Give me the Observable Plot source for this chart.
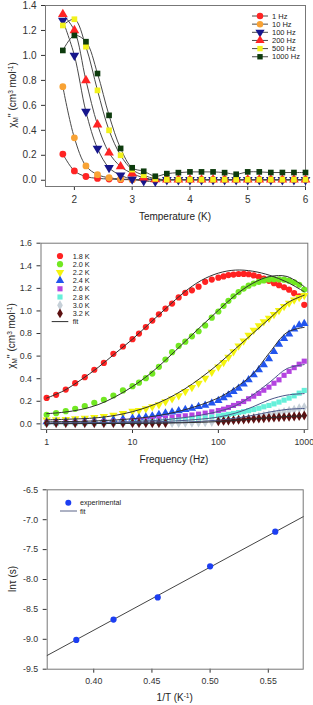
<!DOCTYPE html>
<html><head><meta charset="utf-8">
<script src="https://cdn.jsdelivr.net/npm/d3@7"></script>
<script src="https://cdn.jsdelivr.net/npm/@observablehq/plot@0.6"></script>
<style>
body{margin:0;background:#fff;}
#c{width:313px;}
#c svg{display:block;}
</style></head><body><div id="c"></div>
<script>
// ---------- Panel 1 data: chi'' vs T at several frequencies ----------
const temps = [1.8,2.0,2.2,2.4,2.6,2.8,3.0,3.2,3.4,3.6,3.8,4.0,4.2,4.4,4.6,4.8,5.0,5.2,5.4,5.6,5.8,6.0];
const freqNames = ["1 Hz","10 Hz","100 Hz","200 Hz","500 Hz","1000 Hz"];
const chi_1Hz   = [0.21,0.075,0.03,0.015,0.01,0.005,0.005,0.005,0.005,0.005,0.005,0.005,0.005,0.005,0.005,0.005,0.005,0.005,0.005,0.005,0.005,0.005];
const chi_10Hz  = [0.75,0.34,0.115,0.045,0.02,0.01,0.005,0.004,0.004,0.004,0.004,0.004,0.004,0.004,0.004,0.004,0.004,0.004,0.004,0.004,0.004,0.004];
const chi_100Hz = [1.28,1.0,0.55,0.255,0.10,0.04,0.008,-0.005,-0.01,0.003,0.003,0.003,0.003,0.003,0.003,0.003,0.003,0.003,0.003,0.003,0.003,0.003];
const chi_200Hz = [1.33,1.20,0.80,0.445,0.22,0.11,0.055,0.02,0.006,0.005,0.005,0.005,0.005,0.005,0.005,0.005,0.005,0.005,0.005,0.005,0.005,0.005];
const chi_500Hz = [1.24,1.29,1.07,0.72,0.40,0.20,0.085,0.04,0.012,0.005,0.005,0.005,0.005,0.005,0.005,0.005,0.005,0.005,0.005,0.005,0.005,0.005];
const chi_1000Hz= [1.04,1.16,1.11,0.855,0.52,0.255,0.10,0.072,0.032,0.053,0.061,0.067,0.067,0.067,0.061,0.048,0.067,0.067,0.062,0.062,0.062,0.062];
const tTicks = [2,3,4,5,6];
const chiTicks1 = [0,0.2,0.4,0.6,0.8,1.0,1.2,1.4];

// ---------- Panel 2 data: chi'' vs frequency at several temperatures ----------
const freqs = [1,1.29,1.67,2.15,2.78,3.59,4.64,5.99,7.74,10,11.9,14.3,17.0,20.3,24.2,28.9,34.5,41.2,49.2,58.8,70.2,83.8,100,115,131,150,172,197,225,258,296,338,388,444,508,582,666,763,873,1000];
const tempNames = ["1.8 K","2.0 K","2.2 K","2.4 K","2.6 K","2.8 K","3.0 K","3.2 K"];
const chi_18K = [0.23,0.257,0.304,0.36,0.413,0.479,0.54,0.62,0.685,0.75,0.80,0.857,0.915,0.97,1.02,1.065,1.12,1.16,1.183,1.215,1.258,1.278,1.295,1.306,1.318,1.322,1.327,1.328,1.325,1.315,1.302,1.287,1.267,1.246,1.228,1.21,1.188,1.157,1.13,1.054];
const chi_20K = [0.08,0.095,0.112,0.133,0.157,0.187,0.213,0.251,0.296,0.334,0.365,0.405,0.445,0.505,0.57,0.635,0.69,0.728,0.775,0.82,0.872,0.94,0.995,1.045,1.09,1.13,1.167,1.198,1.224,1.243,1.258,1.27,1.279,1.281,1.28,1.277,1.268,1.253,1.232,1.19];
const chi_22K = [0.035,0.037,0.04,0.045,0.05,0.058,0.067,0.078,0.092,0.112,0.12,0.135,0.152,0.17,0.197,0.222,0.25,0.287,0.322,0.36,0.405,0.457,0.505,0.545,0.59,0.64,0.69,0.735,0.785,0.83,0.87,0.905,0.935,0.97,1.005,1.04,1.07,1.097,1.12,1.138];
const chi_24K = [0.018,0.019,0.02,0.022,0.024,0.027,0.031,0.036,0.042,0.048,0.053,0.06,0.07,0.082,0.095,0.105,0.115,0.127,0.138,0.152,0.165,0.185,0.207,0.23,0.256,0.285,0.315,0.352,0.39,0.433,0.478,0.523,0.576,0.64,0.705,0.755,0.795,0.84,0.875,0.888];
const chi_26K = [0.01,0.01,0.011,0.012,0.013,0.015,0.018,0.021,0.025,0.03,0.034,0.038,0.042,0.047,0.052,0.058,0.065,0.071,0.078,0.086,0.095,0.106,0.118,0.13,0.145,0.163,0.18,0.198,0.222,0.245,0.27,0.298,0.325,0.36,0.39,0.43,0.465,0.498,0.528,0.555];
const chi_28K = [0.004,0.004,0.004,0.005,0.005,0.006,0.007,0.008,0.01,0.012,0.014,0.016,0.019,0.022,0.025,0.029,0.033,0.037,0.042,0.047,0.053,0.061,0.07,0.077,0.084,0.092,0.1,0.108,0.117,0.127,0.138,0.151,0.163,0.177,0.193,0.21,0.228,0.248,0.272,0.296];
const chi_30K = [0.003,0.003,0.003,0.003,0.003,0.003,0.003,0.003,0.003,0.004,0.004,0.005,0.005,0.006,0.006,0.007,0.008,0.009,0.01,0.012,0.014,0.017,0.02,0.024,0.028,0.033,0.038,0.044,0.05,0.057,0.064,0.072,0.08,0.088,0.097,0.106,0.116,0.126,0.138,0.148];
const chi_32K = [0.007,0.007,0.007,0.007,0.007,0.007,0.007,0.007,0.008,0.008,0.008,0.008,0.008,0.008,0.008,null,null,null,null,null,null,null,0.022,0.026,0.03,0.033,0.036,0.039,0.042,0.045,0.048,0.05,0.053,0.055,0.058,0.06,0.062,0.065,0.068,0.074];
// fitted curves sampled at these frequencies
const fitFreqs = [1,1.58,2.51,3.98,6.31,10,15.8,25.1,39.8,63.1,100,158,251,398,631,1000];
const fit_18K = [0.228,0.293,0.39,0.5,0.625,0.75,0.89,1.03,1.165,1.27,1.335,1.362,1.352,1.315,1.255,1.17];
const fit_20K = [0.09,0.103,0.127,0.17,0.24,0.33,0.44,0.575,0.72,0.865,1.005,1.14,1.245,1.305,1.305,1.215];
const fit_22K = [0.035,0.04,0.045,0.055,0.075,0.108,0.155,0.22,0.305,0.41,0.53,0.665,0.8,0.935,1.07,1.14];
const fit_24K = [0.018,0.02,0.022,0.027,0.034,0.045,0.062,0.087,0.123,0.17,0.23,0.32,0.44,0.635,0.81,0.855];
const fit_26K = [0.008,0.009,0.01,0.012,0.015,0.02,0.027,0.038,0.055,0.078,0.11,0.16,0.255,0.37,0.49,0.525];
const fit_28K = [0.004,0.005,0.006,0.007,0.009,0.012,0.016,0.022,0.03,0.042,0.06,0.095,0.15,0.215,0.255,0.268];
const fit_30K = [0.002,0.002,0.003,0.003,0.004,0.005,0.007,0.01,0.015,0.022,0.033,0.05,0.075,0.105,0.128,0.136];
const fit_32K = [0.002,0.002,0.002,0.003,0.003,0.004,0.005,0.007,0.01,0.014,0.02,0.03,0.042,0.055,0.065,0.07];
const fTicks = [1,10,100,1000];
const chiTicks2 = [0,0.2,0.4,0.6,0.8,1.0,1.2,1.4,1.6];

// ---------- Panel 3 data: Arrhenius plot ----------
const invT = [0.385,0.417,0.455,0.500,0.556];
const lnTau = [-9.01,-8.67,-8.30,-7.78,-7.20];
const fitInvT = [0.36,0.58];
const fitLnTau = [-9.27,-6.95];
const invTTicks = [0.40,0.45,0.50,0.55];
const lnTauTicks = [-9.5,-9.0,-8.5,-8.0,-7.5,-7.0,-6.5];

// ---------- helpers ----------
const FONT = "'Liberation Sans', Arial, Helvetica, sans-serif";
const sqrt3 = Math.sqrt(3);
const triangleDown = {draw(ctx, size){ const y = -Math.sqrt(size/(sqrt3*3)); ctx.moveTo(0,-2*y); ctx.lineTo(-sqrt3*y, y); ctx.lineTo(sqrt3*y, y); ctx.closePath(); }};
const symMap = {circle: d3.symbolCircle, square: d3.symbolSquare, triangle: d3.symbolTriangle, diamond: d3.symbolDiamond, down: triangleDown};
const rows = (xs, ys) => xs.map((x,i)=>({x, y: ys[i]})).filter(d => d.y != null);
const container = document.getElementById("c");

function addLegendSymbol(g, cx, cy, sym, r, fill){
  g.append("path").attr("transform",`translate(${cx},${cy})`)
   .attr("d", d3.symbol(symMap[sym], Math.PI*r*r)()).attr("fill", fill);
}
function yLabelChi(svg, x, y){
  const t = svg.append("text").attr("transform",`translate(${x},${y}) rotate(-90)`)
    .attr("text-anchor","middle").attr("font-family",FONT).attr("font-size",10).attr("fill","#222");
  t.append("tspan").text("χ");
  t.append("tspan").attr("font-size",6.5).attr("dy",2).text("M");
  t.append("tspan").attr("dy",-2).text("'' (cm");
  t.append("tspan").attr("font-size",6.5).attr("dy",-3.5).text("3");
  t.append("tspan").attr("dy",3.5).text(" mol");
  t.append("tspan").attr("font-size",6.5).attr("dy",-3.5).text("-1");
  t.append("tspan").attr("dy",3.5).text(")");
}
function xLabel(svg, x, y, build){
  const t = svg.append("text").attr("x",x).attr("y",y).attr("text-anchor","middle")
    .attr("font-family",FONT).attr("font-size",10).attr("fill","#222");
  build(t);
}

// ---------- Panel 1 ----------
const s1 = [
  {ys: chi_1Hz,   fill:"#ff2424", sym:"circle",   r:3.4},
  {ys: chi_10Hz,  fill:"#f8a234", sym:"circle",   r:3.4},
  {ys: chi_100Hz, fill:"#16168c", sym:"down",     r:3.6},
  {ys: chi_200Hz, fill:"#ff2424", sym:"triangle", r:3.6},
  {ys: chi_500Hz, fill:"#f2f21c", sym:"square",   r:3.2},
  {ys: chi_1000Hz,fill:"#0d3b0d", sym:"square",   r:3.2}
];
const marks1 = [Plot.frame({stroke:"#777"})];
s1.forEach(s => marks1.push(Plot.line(rows(temps, s.ys), {x:"x", y:"y", stroke:"#4a4a4a", strokeWidth:1, curve:"catmull-rom"})));
s1.forEach(s => marks1.push(Plot.dot(rows(temps, s.ys), {x:"x", y:"y", fill:s.fill, r:s.r, symbol: s.sym==="down" ? triangleDown : s.sym})));
const p1 = Plot.plot({
  width:313, height:222, marginLeft:45, marginRight:8, marginTop:5, marginBottom:36,
  style:{fontFamily:FONT, fontSize:"10px", color:"#333", background:"#fff", overflow:"visible"},
  x:{domain:[1.5,6], ticks:tTicks, tickFormat:d=>String(d), label:null, tickSize:4},
  y:{domain:[-0.05,1.4], ticks:chiTicks1, tickFormat:d=>d.toFixed(1), label:null, tickSize:4},
  marks: marks1
});
container.appendChild(p1);
{
  const svg = d3.select(p1);
  const g = svg.append("g").attr("font-family",FONT).attr("font-size",7.5).attr("fill","#222").attr("text-anchor","start");
  freqNames.forEach((name,i)=>{
    const cy = 16 + i*8.15;
    g.append("line").attr("x1",252).attr("x2",268).attr("y1",cy).attr("y2",cy).attr("stroke","#4a4a4a").attr("stroke-width",1);
    addLegendSymbol(g, 260, cy, s1[i].sym, s1[i].r*0.95, s1[i].fill);
    g.append("text").attr("x",272).attr("y",cy+2.7).text(name);
  });
  yLabelChi(svg, 16, 95);
  xLabel(svg, 175, 219.5, t => t.text("Temperature (K)"));
}

// ---------- Panel 2 ----------
const s2 = [
  {ys: chi_18K, fit: fit_18K, fill:"#ff2222", sym:"circle",   r:3.1, fc:"#2e2e2e"},
  {ys: chi_20K, fit: fit_20K, fill:"#72e822", sym:"circle",   r:3.1, fc:"#2e2e2e"},
  {ys: chi_22K, fit: fit_22K, fill:"#f4f410", sym:"down",     r:3.1, fc:"#2e2e2e"},
  {ys: chi_24K, fit: fit_24K, fill:"#2255ee", sym:"triangle", r:3.1, fc:"#2e2e2e"},
  {ys: chi_26K, fit: fit_26K, fill:"#b444e0", sym:"square",   r:2.9, fc:"#4a5688"},
  {ys: chi_28K, fit: fit_28K, fill:"#66f0da", sym:"square",   r:2.9, fc:"#4a5688"},
  {ys: chi_30K, fit: fit_30K, fill:"#c6d0d8", sym:"diamond",  r:3.0, fc:"#4a5688"},
  {ys: chi_32K, fit: fit_32K, fill:"#5c1010", sym:"diamond",  r:3.0, fc:"#2e2e2e"}
];
const marks2 = [Plot.frame({stroke:"#777"})];
s2.forEach(s => marks2.push(Plot.dot(rows(freqs, s.ys), {x:"x", y:"y", fill:s.fill, r:s.r, symbol: s.sym==="down" ? triangleDown : s.sym})));
s2.forEach(s => marks2.push(Plot.line(rows(fitFreqs, s.fit), {x:"x", y:"y", stroke:s.fc, strokeWidth:1, curve:"catmull-rom"})));
const p2 = Plot.plot({
  width:313, height:243, marginLeft:40.5, marginRight:5.7, marginTop:20.7, marginBottom:36,
  style:{fontFamily:FONT, fontSize:"8.8px", color:"#333", background:"#fff", overflow:"visible"},
  x:{type:"log", domain:[0.86,1100], ticks:fTicks, tickFormat:d=>String(d), label:null, tickSize:4},
  y:{domain:[-0.05,1.6], ticks:chiTicks2, tickFormat:d=>d.toFixed(1), label:null, tickSize:4},
  marks: marks2
});
container.appendChild(p2);
{
  const svg = d3.select(p2);
  const g = svg.append("g").attr("font-family",FONT).attr("font-size",7.3).attr("fill","#222").attr("text-anchor","start");
  tempNames.forEach((name,i)=>{
    const cy = 34 + i*8.2;
    addLegendSymbol(g, 60, cy, s2[i].sym, s2[i].r, s2[i].fill);
    g.append("text").attr("x",72.7).attr("y",cy+2.6).text(name);
  });
  const fy = 34 + 8*8.2;
  g.append("line").attr("x1",51.7).attr("x2",68.3).attr("y1",fy).attr("y2",fy).attr("stroke","#2e2e2e");
  g.append("text").attr("x",72.7).attr("y",fy+2.6).text("fit");
  yLabelChi(svg, 15, 114);
  xLabel(svg, 174, 240.5, t => t.text("Frequency (Hz)"));
}

// ---------- Panel 3 ----------
const p3 = Plot.plot({
  width:313, height:240, marginLeft:46.7, marginRight:10.3, marginTop:24.3, marginBottom:36.3,
  style:{fontFamily:FONT, fontSize:"8.8px", color:"#333", background:"#fff", overflow:"visible"},
  x:{domain:[0.36,0.58], ticks:invTTicks, tickFormat:d=>d.toFixed(2), label:null, tickSize:4},
  y:{domain:[-9.5,-6.5], ticks:lnTauTicks, tickFormat:d=>d.toFixed(1), label:null, tickSize:4},
  marks:[
    Plot.frame({stroke:"#777"}),
    Plot.line(rows(fitInvT, fitLnTau), {x:"x", y:"y", stroke:"#444", strokeWidth:1}),
    Plot.dot(rows(invT, lnTau), {x:"x", y:"y", fill:"#1c3ef2", r:3.1})
  ]
});
container.appendChild(p3);
{
  const svg = d3.select(p3);
  const g = svg.append("g").attr("font-family",FONT).attr("font-size",7.2).attr("fill","#222").attr("text-anchor","start");
  g.append("circle").attr("cx",68.3).attr("cy",37.7).attr("r",3).attr("fill","#1c3ef2");
  g.append("text").attr("x",80).attr("y",40.3).text("experimental");
  g.append("line").attr("x1",60).attr("x2",77).attr("y1",46).attr("y2",46).attr("stroke","#5a6488");
  g.append("text").attr("x",80).attr("y",48.6).text("fit");
  const t = svg.append("text").attr("transform",`translate(16,114) rotate(-90)`).attr("text-anchor","middle")
    .attr("font-family",FONT).attr("font-size",10).attr("fill","#222");
  t.text("lnτ (s)");
  xLabel(svg, 174.7, 236, tt => {
    tt.append("tspan").text("1/T (K");
    tt.append("tspan").attr("font-size",6.5).attr("dy",-3.5).text("-1");
    tt.append("tspan").attr("dy",3.5).text(")");
  });
}
</script></body></html>
